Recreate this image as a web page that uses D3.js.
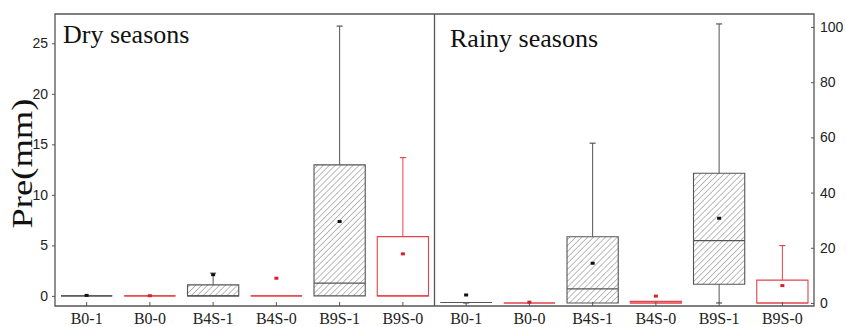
<!DOCTYPE html>
<html>
<head>
<meta charset="utf-8">
<script src="https://cdn.jsdelivr.net/npm/d3@7"></script>
<style>
  body { margin: 0; background: #fff; }
  svg { display: block; }
  .xlab text { font-family: "Liberation Serif", "Times New Roman", serif; font-size: 16px; }
</style>
</head>
<body>
<svg id="chart" width="846" height="327"></svg>
<script>
// categories shared by both panels
const categories = ['B0-1', 'B0-0', 'B4S-1', 'B4S-0', 'B9S-1', 'B9S-0'];

// dry seasons (left axis, mm)
const dryMin    = [0, 0, 0,    0, 0,     0];
const dryQ1     = [0, 0, 0,    0, 0,     0];
const dryMedian = [0, 0, 0,    0, 1.26,  0];
const dryQ3     = [0, 0, 1.09, 0, 12.97, 5.87];
const dryMax    = [0, 0, 2.25, 0, 26.7,  13.69];
const dryMean   = [0.05, 0.02, 2.1, 1.75, 7.36, 4.16];

// rainy seasons (right axis, mm)
const rainyMin    = [0, 0, 0,    0,   0,    0];
const rainyQ1     = [0.2, 0, 0,  0,   6.8,  0];
const rainyMedian = [0.2, 0, 5.1, 0,  22.6, 0];
const rainyQ3     = [0.2, 0, 24.0, 0.6, 47.0, 8.3];
const rainyMax    = [0.2, 0, 57.9, 0.6, 101.1, 20.8];
const rainyMean   = [2.9, 0.3, 14.4, 2.5, 30.7, 6.3];

const dryTicks = [0, 5, 10, 15, 20, 25];
const rainyTicks = [0, 20, 40, 60, 80, 100];

const margin = { top: 14, left: 55, right: 814, bottom: 306 };
const divider = 434.5;

const svg = d3.select('#chart');

// hatch pattern for the "-1" groups
const defs = svg.append('defs');
defs.append('pattern')
    .attr('id', 'hatch')
    .attr('patternUnits', 'userSpaceOnUse')
    .attr('width', 4.2)
    .attr('height', 4.2)
    .attr('patternTransform', 'rotate(45)')
  .append('line')
    .attr('x1', 0).attr('y1', 0)
    .attr('x2', 0).attr('y2', 4.2)
    .attr('stroke', '#7a7a7a')
    .attr('stroke-width', 1);

const yDry = d3.scaleLinear().domain([-1, 27.9]).range([margin.bottom, margin.top]);
const yRainy = d3.scaleLinear().domain([-1.09, 104.7]).range([margin.bottom, margin.top]);
const xDry = d3.scaleBand().domain(categories).range([margin.left, divider]);
const xRainy = d3.scaleBand().domain(categories).range([divider, margin.right]);

function pack(min, q1, med, q3, max, mean) {
    return categories.map((c, i) => ({
        cat: c, min: min[i], q1: q1[i], med: med[i], q3: q3[i], max: max[i], mean: mean[i],
        red: c.endsWith('-0')
    }));
}
const dryData = pack(dryMin, dryQ1, dryMedian, dryQ3, dryMax, dryMean);
const rainyData = pack(rainyMin, rainyQ1, rainyMedian, rainyQ3, rainyMax, rainyMean);

function drawBoxes(data, x, y) {
    const bw = x.bandwidth() * 0.81;
    const g = svg.append('g').selectAll('g').data(data).join('g')
        .attr('transform', d => `translate(${x(d.cat) + x.bandwidth() / 2},0)`);
    const stroke = d => d.red ? '#e4424c' : '#555';
    // whiskers
    g.append('line').attr('x1', 0).attr('x2', 0)
        .attr('y1', d => y(d.max)).attr('y2', d => y(d.q3))
        .attr('stroke', stroke).attr('stroke-width', 1);
    g.append('line').attr('x1', 0).attr('x2', 0)
        .attr('y1', d => y(d.q1)).attr('y2', d => y(d.min))
        .attr('stroke', stroke).attr('stroke-width', 1);
    // caps
    g.filter(d => d.max > d.q3).append('line').attr('x1', -3).attr('x2', 3)
        .attr('y1', d => y(d.max)).attr('y2', d => y(d.max))
        .attr('stroke', stroke).attr('stroke-width', 1.2);
    g.filter(d => d.min < d.q1).append('line').attr('x1', -3).attr('x2', 3)
        .attr('y1', d => y(d.min)).attr('y2', d => y(d.min))
        .attr('stroke', stroke).attr('stroke-width', 1.2);
    // box (path so zero height still draws)
    g.append('path')
        .attr('d', d => `M${-bw / 2},${y(d.q3)}H${bw / 2}V${y(d.q1)}H${-bw / 2}Z`)
        .attr('fill', d => d.red ? 'none' : 'url(#hatch)')
        .attr('stroke', stroke).attr('stroke-width', 1.1);
    // median
    g.append('line').attr('x1', -bw / 2).attr('x2', bw / 2)
        .attr('y1', d => y(d.med)).attr('y2', d => y(d.med))
        .attr('stroke', stroke).attr('stroke-width', 1.1);
    // mean
    g.append('rect').attr('x', -2).attr('width', 4).attr('height', 3)
        .attr('y', d => y(d.mean) - 1.5)
        .attr('fill', d => d.red ? '#d9202c' : '#111');
}

drawBoxes(dryData, xDry, yDry);
drawBoxes(rainyData, xRainy, yRainy);

// frame
svg.append('path')
    .attr('d', `M${margin.left},${margin.top}H${margin.right}V${margin.bottom}H${margin.left}Z M${divider},${margin.top}V${margin.bottom}`)
    .attr('fill', 'none').attr('stroke', '#555').attr('stroke-width', 1.3);

const tickFont = '"Liberation Sans", Arial, sans-serif';
const serif = '"Liberation Serif", "Times New Roman", serif';

const leftAxis = svg.append('g').attr('transform', `translate(${margin.left},0)`)
    .call(d3.axisLeft(yDry).tickValues(dryTicks).tickSize(3).tickPadding(4));
const rightAxis = svg.append('g').attr('transform', `translate(${margin.right},0)`)
    .call(d3.axisRight(yRainy).tickValues(rainyTicks).tickSize(-3).tickPadding(6));
[leftAxis, rightAxis].forEach(a => {
    a.select('.domain').remove();
    a.attr('font-family', tickFont).attr('font-size', 14);
    a.selectAll('.tick line').attr('stroke', '#555');
    a.selectAll('.tick text').attr('fill', '#222');
});

[xDry, xRainy].forEach(x => {
    const a = svg.append('g').attr('class', 'xlab')
        .attr('transform', `translate(0,${margin.bottom})`)
        .call(d3.axisBottom(x).tickSize(-4));
    a.attr('font-family', null).attr('font-size', null);
    a.select('.domain').remove();
    a.selectAll('.tick line').attr('stroke', '#555');
    a.selectAll('.tick text').attr('dy', null).attr('y', 17.5).attr('fill', '#222');
});

// panel titles
svg.append('text').attr('x', 63).attr('y', 43)
    .style('font-family', serif).style('font-size', '26px').attr('fill', '#111')
    .text('Dry seasons');
svg.append('text').attr('x', 450).attr('y', 47)
    .style('font-family', serif).style('font-size', '26px').attr('fill', '#111')
    .text('Rainy seasons');

// y label
svg.append('text')
    .attr('transform', 'translate(32,163.5) rotate(-90)')
    .attr('text-anchor', 'middle')
    .style('font-family', serif).style('font-size', '30px').attr('fill', '#111')
    .attr('textLength', 130).attr('lengthAdjust', 'spacingAndGlyphs')
    .text('Pre(mm)');
</script>
</body>
</html>
